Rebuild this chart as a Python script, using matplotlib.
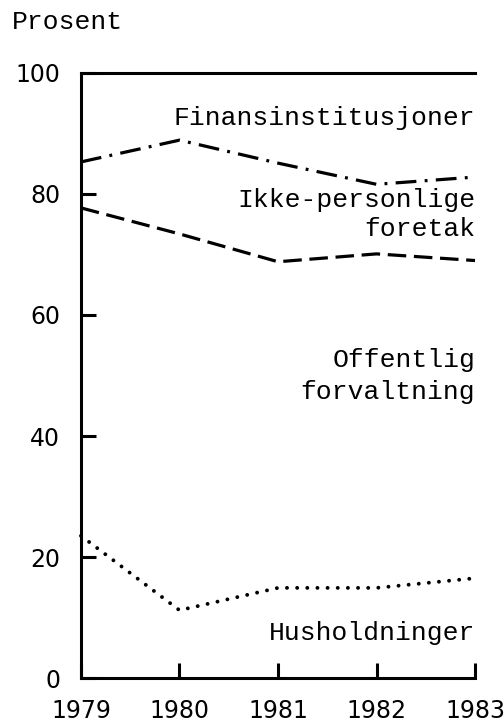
import matplotlib.pyplot as plt

years = [1979, 1980, 1981, 1982, 1983]
finans = [85.3, 88.9, 85.1, 81.6, 82.8]
ikke_personlige = [77.7, 73.4, 68.8, 70.1, 69.0]
husholdninger = [23.5, 11.2, 14.9, 14.9, 16.5]

y_ticks = [0, 20, 40, 60, 80, 100]
x_labels = ['1979', '1980', '1981', '1982', '1983']

label_font = 'Liberation Mono'
tick_font = 'DejaVu Sans'

fig = plt.figure(figsize=(5.04, 7.24), dpi=100)
ax = fig.add_axes([0.1607, 0.0635, 0.7818, 0.8357])

ax.spines.right.set_visible(False)
for side in ['left', 'top', 'bottom']:
    ax.spines[side].set_linewidth(2.2)

ax.set_xlim(1979, 1983)
ax.set_ylim(0, 100)

ax.set_xticks(years)
ax.set_xticklabels(x_labels)
ax.set_yticks(y_ticks)
ax.set_yticklabels([str(v) for v in y_ticks])

ax.tick_params(axis='both', direction='in', length=10.5, width=2.2,
               labelsize=17, color='k')
ax.tick_params(axis='y', pad=15)
ax.tick_params(axis='x', pad=15)
for lab in ax.get_xticklabels() + ax.get_yticklabels():
    lab.set_fontfamily(tick_font)

ax.plot(years, finans, color='k', lw=2.3, dashes=(6.5, 2.6, 0.9, 2.6),
        clip_on=False, zorder=3)
ax.plot(years, ikke_personlige, color='k', lw=2.3, dashes=(5.8, 2.4),
        clip_on=False, zorder=3)
ax.plot(years, husholdninger, color='k', lw=2.8, dashes=(0.01, 2.6),
        dash_capstyle='round', clip_on=False, zorder=3)

txt = dict(fontsize=19, family=label_font, ha='right', va='center',
           transform=ax.transAxes)
ax.text(1.0, 0.925, 'Finansinstitusjoner', **txt)
ax.text(1.0, 0.79, 'Ikke-personlige', **txt)
ax.text(1.0, 0.742, 'foretak', **txt)
ax.text(1.0, 0.526, 'Offentlig', **txt)
ax.text(1.0, 0.473, 'forvaltning', **txt)
ax.text(1.0, 0.074, 'Husholdninger', **txt)

fig.text(12 / 504, 1 - 22 / 724, 'Prosent', fontsize=19, family=label_font,
         ha='left', va='center')

fig.savefig('out.png', dpi=100)
